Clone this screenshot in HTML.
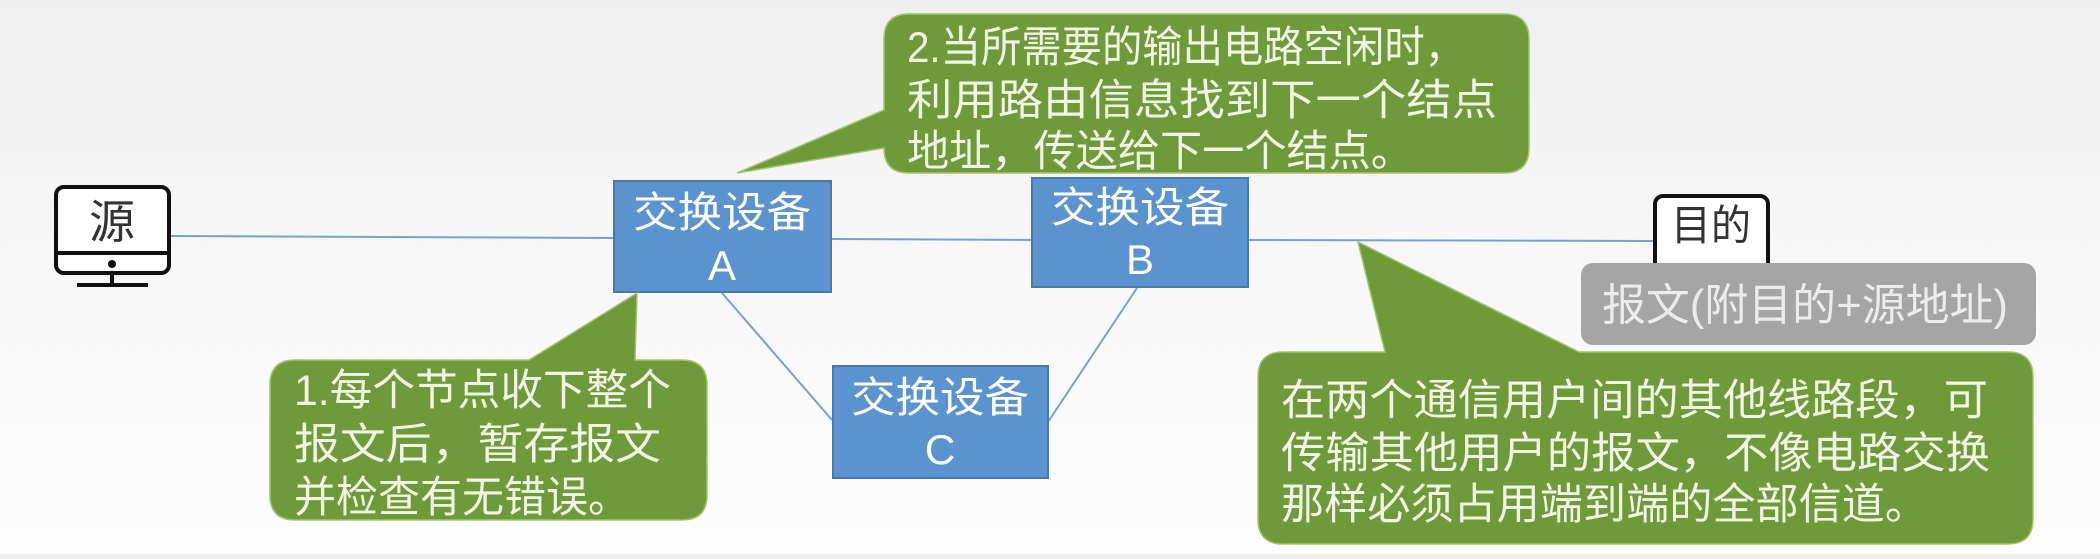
<!DOCTYPE html>
<html><head><meta charset="utf-8"><style>
html,body{margin:0;padding:0;}
body{width:2100px;height:554px;overflow:hidden;background:linear-gradient(180deg,#efefef 0%,#f7f7f7 40%,#fdfdfd 100%);}
svg text{font-family:"Liberation Sans","Noto Sans CJK SC",sans-serif;}
</style></head><body>
<svg width="2100" height="554" viewBox="0 0 2100 554" xmlns="http://www.w3.org/2000/svg">
<g stroke="#7aa0cc" stroke-width="2" fill="none">
<line x1="170" y1="236" x2="614" y2="238"/>
<line x1="831" y1="239" x2="1032" y2="240"/>
<line x1="1249" y1="240" x2="1655" y2="241"/>
<line x1="722" y1="293" x2="832" y2="420"/>
<line x1="1137" y1="288" x2="1048" y2="422"/>
</g>
<rect x="56" y="187" width="113" height="86" rx="8" fill="#fff" stroke="#111" stroke-width="4"/>
<line x1="56" y1="253" x2="169" y2="253" stroke="#111" stroke-width="4"/>
<circle cx="112" cy="264" r="4" fill="#111"/>
<line x1="112" y1="273" x2="112" y2="284" stroke="#111" stroke-width="4"/>
<line x1="77" y1="285" x2="148" y2="285" stroke="#111" stroke-width="4"/>
<text x="89" y="238" font-size="46" textLength="46" lengthAdjust="spacingAndGlyphs" fill="#333">源</text>
<rect x="1655" y="196" width="113" height="80" rx="8" fill="#fff" stroke="#111" stroke-width="4"/>
<text x="1671" y="240" font-size="42" textLength="80" lengthAdjust="spacingAndGlyphs" fill="#333">目的</text>
<rect x="1581" y="263" width="455" height="82" rx="12" fill="#a5a5a5"/>
<text x="1602" y="320" font-size="44" textLength="406" lengthAdjust="spacingAndGlyphs" fill="#ececec">报文(附目的+源地址)</text>
<g fill="#5b93cf" stroke="#4a78a8" stroke-width="2">
<rect x="614" y="181" width="217" height="111"/>
<rect x="1032" y="178" width="216" height="109"/>
<rect x="833" y="366" width="215" height="112"/>
</g>
<g fill="#fff" font-size="42" text-anchor="middle">
<text x="722" y="227" textLength="178" lengthAdjust="spacingAndGlyphs">交换设备</text><text x="722" y="280">A</text>
<text x="1140" y="222" textLength="178" lengthAdjust="spacingAndGlyphs">交换设备</text><text x="1140" y="274">B</text>
<text x="940" y="412" textLength="178" lengthAdjust="spacingAndGlyphs">交换设备</text><text x="940" y="464">C</text>
</g>
<g fill="#6e9a3a" stroke="#a3c46e" stroke-width="1.5">
<path d="M295,360 L529,360 L637,293 L635,360 L682,360 Q707,360 707,385 L707,495 Q707,520 682,520 L295,520 Q270,520 270,495 L270,385 Q270,360 295,360 Z"/>
<path d="M909,14 L1504,14 Q1529,14 1529,39 L1529,148 Q1529,173 1504,173 L909,173 Q884,173 884,148 L884,148 L737,173 L884,110 L884,39 Q884,14 909,14 Z"/>
<path d="M1283,352 L1385,352 L1358,242 L1579,352 L2008,352 Q2033,352 2033,377 L2033,519 Q2033,544 2008,544 L1283,544 Q1258,544 1258,519 L1258,377 Q1258,352 1283,352 Z"/>
</g>
<g fill="#f0f6e6" font-size="43" lengthAdjust="spacingAndGlyphs">
<text x="294" y="405" textLength="377" lengthAdjust="spacingAndGlyphs">1.每个节点收下整个</text>
<text x="294" y="459" textLength="367" lengthAdjust="spacingAndGlyphs">报文后，暂存报文</text>
<text x="294" y="512" textLength="336" lengthAdjust="spacingAndGlyphs">并检查有无错误。</text>
<text x="907" y="62" textLength="558" lengthAdjust="spacingAndGlyphs">2.当所需要的输出电路空闲时，</text>
<text x="907" y="115" textLength="590" lengthAdjust="spacingAndGlyphs">利用路由信息找到下一个结点</text>
<text x="907" y="166" textLength="506" lengthAdjust="spacingAndGlyphs">地址，传送给下一个结点。</text>
<text x="1281" y="415" textLength="707" lengthAdjust="spacingAndGlyphs">在两个通信用户间的其他线路段，可</text>
<text x="1281" y="468" textLength="709" lengthAdjust="spacingAndGlyphs">传输其他用户的报文，不像电路交换</text>
<text x="1281" y="519" textLength="647" lengthAdjust="spacingAndGlyphs">那样必须占用端到端的全部信道。</text>
</g>
</svg>
</body></html>
